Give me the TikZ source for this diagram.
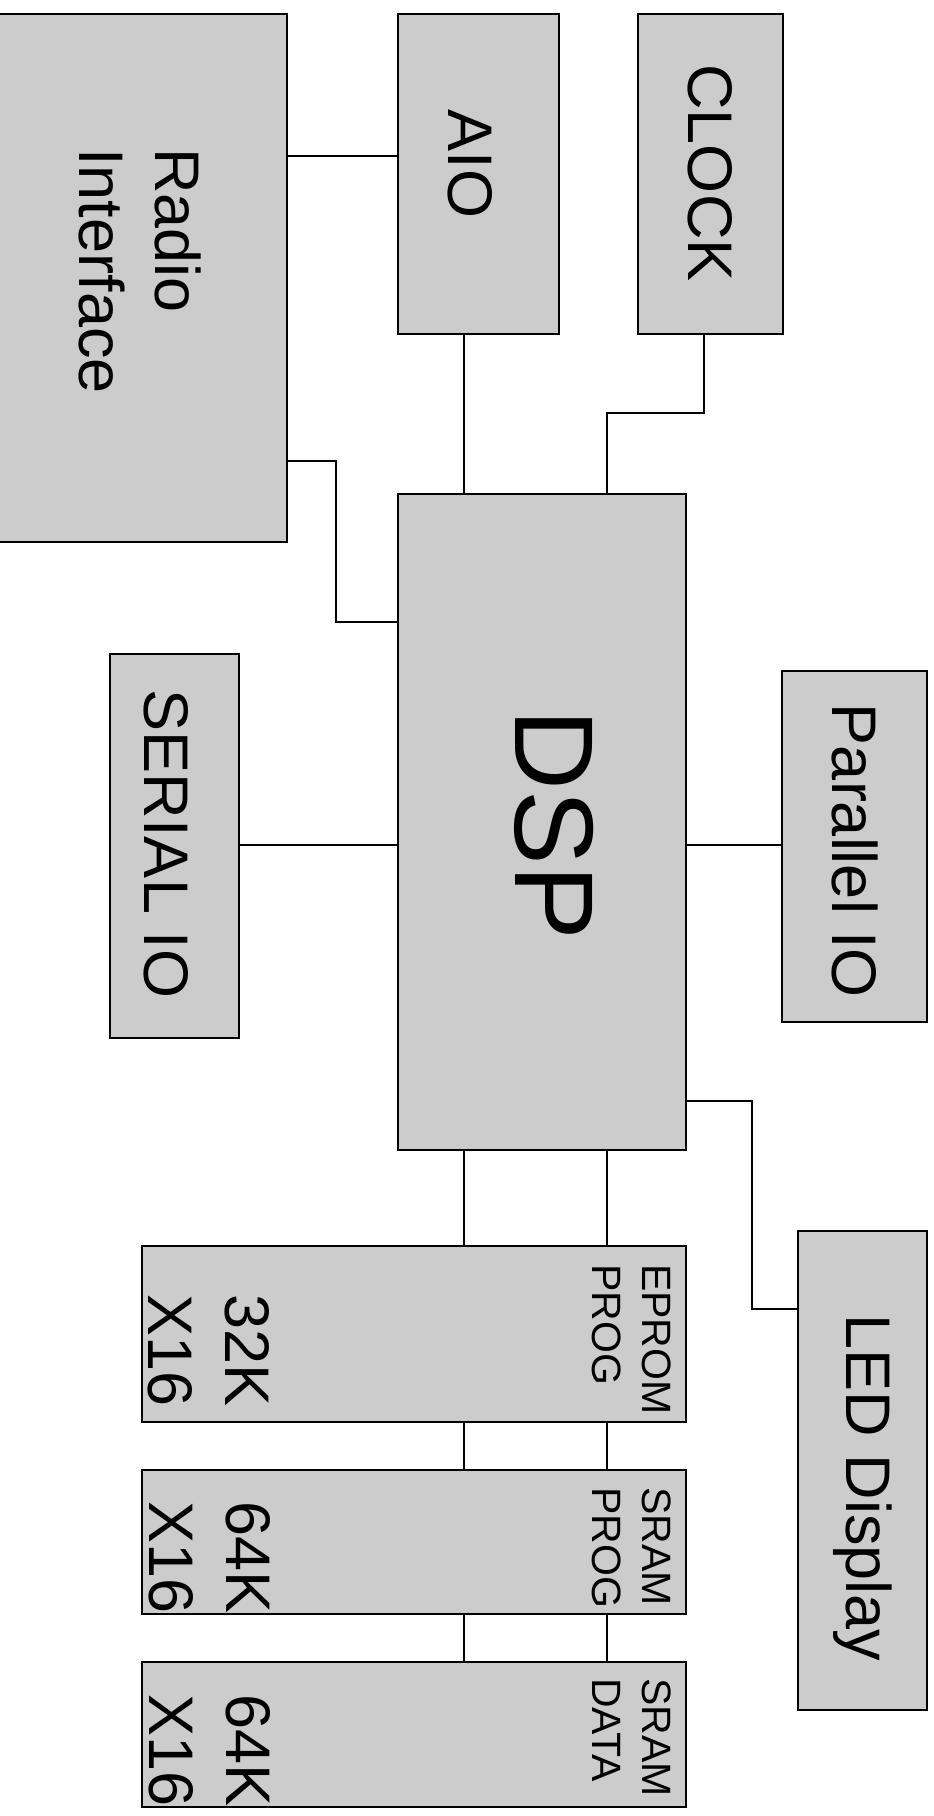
\documentclass[tikz,border=0pt]{standalone}
\usepackage{fontspec}
\setmainfont{Liberation Sans}
\usetikzlibrary{positioning,calc}

\begin{document}
\begin{tikzpicture}[
  x=1pt, y=-1pt,
  blk/.style={draw,line width=2pt,fill=black!20,inner sep=0pt,outer sep=0pt},
  lbl/.style={rotate=-90,inner sep=0pt,font=\fontsize{63}{76}\selectfont},
  biglbl/.style={rotate=-90,inner sep=0pt,font=\fontsize{112}{134}\selectfont},
  memsize/.style={rotate=-90,inner sep=0pt,anchor=north west,align=left,font=\fontsize{63}{77}\selectfont},
  memname/.style={rotate=-90,inner sep=0pt,anchor=north west,align=left,font=\fontsize{41}{50}\selectfont},
  wire/.style={line width=1.5pt},
]
  \useasboundingbox (0,0) rectangle (934,1816);

  % blocks
  \node[blk,minimum width=292pt,minimum height=528pt] (radio) at (141,278) {};
  \node[blk,minimum width=161pt,minimum height=320pt] (aio) at (478.5,174) {};
  \node[blk,minimum width=145pt,minimum height=320pt] (clock) at (710.5,174) {};
  \node[blk,minimum width=288pt,minimum height=656pt] (dsp) at (542,822) {};
  \node[blk,minimum width=129pt,minimum height=384pt] (serial) at (174.5,846) {};
  \node[blk,minimum width=145pt,minimum height=351pt] (parallel) at (854.5,846.5) {};
  \node[blk,minimum width=544pt,minimum height=176pt] (eprom) at (414,1334) {};
  \node[blk,minimum width=544pt,minimum height=144pt] (sramp) at (414,1542) {};
  \node[blk,minimum width=544pt,minimum height=145pt] (sramd) at (414,1734.5) {};
  \node[blk,minimum width=129pt,minimum height=479pt] (led) at (862.5,1470.5) {};

  % connections
  \coordinate (busa) at (464,0);
  \coordinate (busb) at (607,0);
  \draw[wire] (radio.east |- 0,156) -- (aio.west |- 0,156);
  \draw[wire] (radio.east |- 0,461) -| (336,622) -- (dsp.west |- 0,622);
  \draw[wire] (aio.south -| busa) -- (dsp.north -| busa);
  \draw[wire] (clock.south -| 704,0) |- (busb |- 0,413) -- (dsp.north -| busb);
  \draw[wire] (serial.east |- 0,845) -- (dsp.west |- 0,845);
  \draw[wire] (dsp.east |- 0,845) -- (parallel.west |- 0,845);
  \draw[wire] (dsp.east |- 0,1101) -| (752,1309) -- (led.west |- 0,1309);
  \foreach \a/\b in {dsp/eprom, eprom/sramp, sramp/sramd} {
    \draw[wire] (\a.south -| busa) -- (\b.north -| busa);
    \draw[wire] (\a.south -| busb) -- (\b.north -| busb);
  }

  % labels
  \node[lbl,align=left] (radiotxt) at (140,271) {Radio\\Interface};
  \node[lbl] (aiotxt) at (470,164) {AIO};
  \node[lbl] (clocktxt) at (710,173) {CLOCK};
  \node[biglbl] (dsptxt) at (554,825) {DSP};
  \node[lbl] (serialtxt) at (166,844) {SERIAL IO};
  \node[lbl] (paralleltxt) at (855,851) {Parallel IO};
  \node[lbl] (ledtxt) at (863,1488) {LED Display};

  % memories
  \node[memname] (epromname) at (671,1264) {EPROM\\PROG};
  \node[memsize] (epromsize) at (270,1294) {32K\\X16};
  \node[memname] (srampname) at (671,1487) {SRAM\\PROG};
  \node[memname] (sramdname) at (671,1678) {SRAM\\DATA};
  \begin{scope}
    \clip ($(sramp.north west)+(1,1)$) rectangle ($(sramp.south east)+(-1,-1)$);
    \node[memsize] (srampsize) at (271,1501) {64K\\X16};
  \end{scope}
  \begin{scope}
    \clip ($(sramd.north west)+(1,1)$) rectangle ($(sramd.south east)+(-1,-1)$);
    \node[memsize] (sramdsize) at (271,1694) {64K\\X16};
  \end{scope}
\end{tikzpicture}
\end{document}
